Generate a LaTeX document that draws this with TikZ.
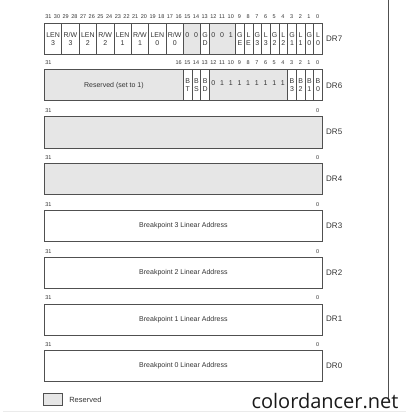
\documentclass[tikz,border=0pt]{standalone}
\usepackage{fontspec}
\setmainfont{Liberation Sans}
\newfontfamily\wmfont{Open Sans}
\usepackage{xcolor}
\usetikzlibrary{positioning}

\definecolor{resgray}{HTML}{E6E6E6}
\definecolor{linegray}{HTML}{505050}
\definecolor{txtgray}{HTML}{333333}

\begin{document}
\begin{tikzpicture}[x=1pt, y=-1pt,
        cell/.style={draw=linegray, line width=0.8pt, inner sep=0pt, minimum height=31pt,
            anchor=north west, align=center, text=txtgray, font=\fontsize{7}{7.8}\selectfont},
        resv/.style={fill=resgray},
        plain/.style={},
        bitno/.style={inner sep=0pt, text=txtgray, font=\fontsize{5.5}{5.5}\selectfont},
        digit/.style={inner sep=0pt, text=txtgray, font=\fontsize{7}{7}\selectfont},
        reglbl/.style={inner sep=0pt, anchor=west, text=txtgray, font=\fontsize{8}{8}\selectfont}]

        \useasboundingbox (0,0) rectangle (406,414);
        \def\bw{8.6875}

        % DR7
        \foreach \b in {0,...,31}
            \node[bitno] (b7-\b) at ({44+(31.5-\b)*\bw}, 17) {\b};
        \foreach \hi/\w/\t in {31/2/{LEN\\3}, 29/2/{R/W\\3}, 27/2/{LEN\\2}, 25/2/{R/W\\2},
                23/2/{LEN\\1}, 21/2/{R/W\\1}, 19/2/{LEN\\0}, 17/2/{R/W\\0}, 13/1/{G\\D},
                9/1/{G\\E}, 8/1/{L\\E}, 7/1/{G\\3}, 6/1/{L\\3}, 5/1/{G\\2}, 4/1/{L\\2},
                3/1/{G\\1}, 2/1/{L\\1}, 1/1/{G\\0}, 0/1/{L\\0}}
            \node[cell, minimum width=\w*\bw] (c7-\hi) at ({44+(31-\hi)*\bw}, 23) {\t};
        \node[cell, resv, minimum width=2*\bw] (c7-15) at ({44+16*\bw}, 23) {};
        \node[cell, resv, minimum width=3*\bw] (c7-12) at ({44+19*\bw}, 23) {};
        \foreach \b/\v in {15/0, 14/0, 12/0, 11/0, 10/1}
            \node[digit] (d7-\b) at ({44+(31.5-\b)*\bw}, 35) {\v};
        \node[reglbl] (dr7) at (326, 38.5) {DR7};

        % DR6
        \node[bitno] (b6-31) at ({44+0.5*\bw}, 63) {31};
        \foreach \b in {0,...,16}
            \node[bitno] (b6-\b) at ({44+(31.5-\b)*\bw}, 63) {\b};
        \node[cell, resv, minimum width=16*\bw] (c6-31) at (44, 69.5) {Reserved (set to 1)};
        \foreach \hi/\t in {15/{B\\T}, 14/{B\\S}, 13/{B\\D}, 3/{B\\3}, 2/{B\\2}, 1/{B\\1}, 0/{B\\0}}
            \node[cell, minimum width=\bw] (c6-\hi) at ({44+(31-\hi)*\bw}, 69.5) {\t};
        \node[cell, resv, minimum width=9*\bw] (c6-12) at ({44+19*\bw}, 69.5) {};
        \foreach \b/\v in {12/0, 11/1, 10/1, 9/1, 8/1, 7/1, 6/1, 5/1, 4/1}
            \node[digit] (d6-\b) at ({44+(31.5-\b)*\bw}, 83) {\v};
        \node[reglbl] (dr6) at (326, 85.5) {DR6};

        % DR5 .. DR0
        \foreach \r/\i/\f in {5/2/resv, 4/3/resv, 3/4/plain, 2/5/plain, 1/6/plain, 0/7/plain} {
            \node[bitno] (b\r-31) at ({44+0.5*\bw}, {17.5+46.75*\i}) {31};
            \node[bitno] (b\r-0) at ({44+31.5*\bw}, {17.5+46.75*\i}) {0};
            \node[cell, \f, minimum width=32*\bw] (c\r) at (44, {23+46.75*\i}) {};
            \node[reglbl] (dr\r) at (326, {38.5+46.75*\i}) {DR\r};
        }
        \foreach \r in {3,2,1,0}
            \node[text=txtgray, font=\fontsize{7}{7}\selectfont] (bp\r) at (c\r) {Breakpoint \r\ Linear Address};

        % legend
        \node[cell, resv, minimum width=19pt, minimum height=12pt] (leg) at (43, 393) {};
        \node[text=txtgray, font=\fontsize{7.5}{7.5}\selectfont, right=3pt of leg] (legtxt) {Reserved};

        \draw[linegray, line width=0.8pt] (388, 0) -- (388, 398);
        \draw[black!8] (3, 411) -- (406, 411);
        \node[anchor=base east, text=black!90, font=\wmfont\fontsize{20}{20}\selectfont] (wm) at (402, 408) {colordancer.net};

    \end{tikzpicture}
\end{document}
